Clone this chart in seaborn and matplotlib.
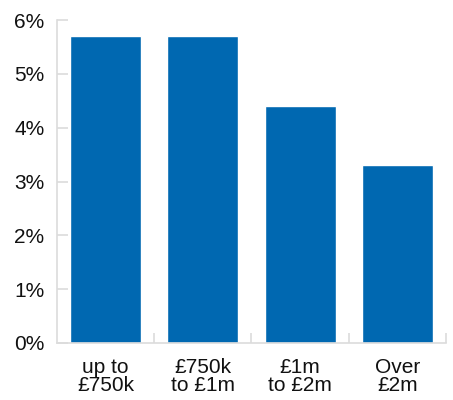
import matplotlib
matplotlib.use("Agg")
import matplotlib.pyplot as plt
import seaborn as sns
import pandas as pd

categories = ["up to\n£750k", "£750k\nto £1m", "£1m\nto £2m", "Over\n£2m"]
values = [5.7, 5.7, 4.4, 3.3]
yticks = [0, 1, 2, 3, 4, 5, 6]
ytick_labels = ["0%", "1%", "2%", "3%", "4%", "5%", "6%"]

sns.set_theme(style="white")
plt.rcParams['font.family'] = ['Liberation Sans', 'DejaVu Sans']

df = pd.DataFrame({"cat": categories, "val": values})

fig = plt.figure(figsize=(4.53, 4.00), dpi=100)
ax = fig.add_axes([57/453, 1 - 343/400, (446 - 57)/453, (343 - 20)/400])

sns.barplot(data=df, x="cat", y="val", color="#0068b1", saturation=1,
            width=0.73, ax=ax)

ax.set_xlim(-0.5, 3.5)
ax.set_ylim(0, 6)
ax.set_xlabel("")
ax.set_ylabel("")
ax.set_yticks(yticks)
ax.set_yticklabels(ytick_labels)

spine_c = "#dcdcdc"
for s in ["top", "right"]:
    ax.spines[s].set_visible(False)
for s in ["left", "bottom"]:
    ax.spines[s].set_color(spine_c)
    ax.spines[s].set_linewidth(1.2)

ax.tick_params(axis="y", direction="in", length=8, width=1.2, color=spine_c,
               labelsize=15, pad=9, labelcolor="#111111", left=True)
ax.tick_params(axis="x", which="major", length=0, labelsize=15, pad=11,
               labelcolor="#111111")
ax.set_xticks([0.5, 1.5, 2.5, 3.5], minor=True)
ax.tick_params(axis="x", which="minor", direction="in", length=7, width=1.2,
               color=spine_c, bottom=True)
for lab in ax.get_xticklabels():
    lab.set_linespacing(0.92)

fig.savefig("out.png", dpi=100)
